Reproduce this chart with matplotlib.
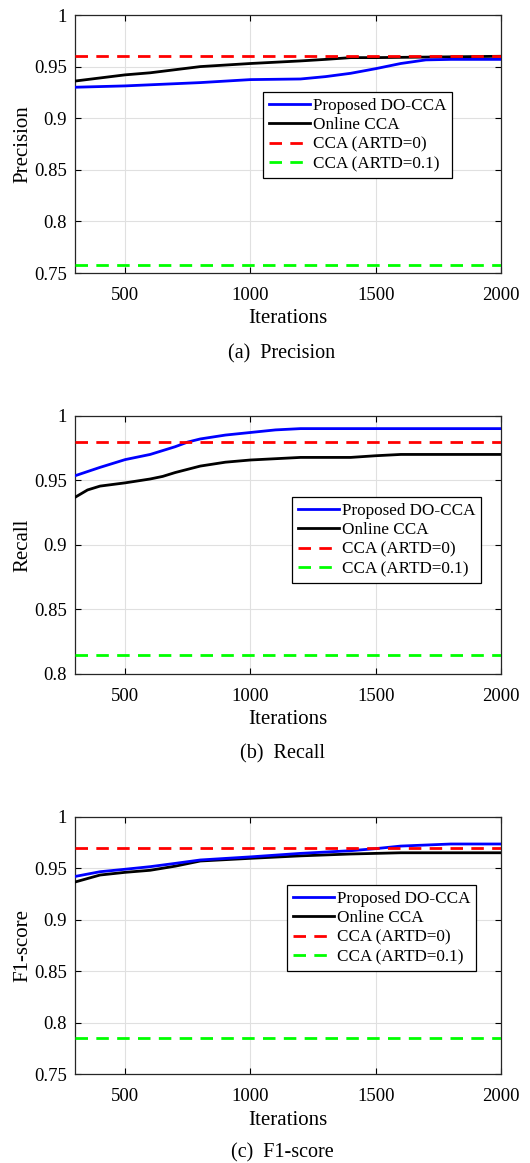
import matplotlib
matplotlib.use("Agg")
import matplotlib.pyplot as plt
from matplotlib.ticker import FuncFormatter

plt.rcParams['font.family'] = ['Liberation Serif', 'DejaVu Serif']

# ---------------- data ----------------
labels = ["Proposed DO-CCA", "Online CCA", "CCA (ARTD=0)", "CCA (ARTD=0.1)"]

prec_x_blue = [300, 500, 800, 1000, 1200, 1300, 1400, 1500, 1600, 1700, 1800, 2000]
prec_blue = [0.930, 0.9313, 0.9345, 0.9374, 0.938, 0.9403, 0.9435, 0.948, 0.953, 0.9565, 0.957, 0.957]
prec_x_black = [300, 500, 600, 700, 800, 1000, 1200, 1300, 1400, 1500, 2000]
prec_black = [0.936, 0.942, 0.944, 0.947, 0.950, 0.953, 0.9555, 0.957, 0.9587, 0.9587, 0.960]
prec_red = 0.960
prec_green = 0.7575

rec_x_blue = [300, 400, 500, 600, 700, 750, 800, 900, 1000, 1100, 1200, 2000]
rec_blue = [0.9535, 0.960, 0.966, 0.970, 0.976, 0.9796, 0.982, 0.985, 0.987, 0.989, 0.990, 0.990]
rec_x_black = [300, 350, 400, 500, 600, 650, 700, 800, 900, 1000, 1200, 1400, 1500, 1600, 2000]
rec_black = [0.9368, 0.9425, 0.9455, 0.948, 0.951, 0.953, 0.956, 0.961, 0.964, 0.9657, 0.9677, 0.9677, 0.969, 0.970, 0.970]
rec_red = 0.980
rec_green = 0.815

f1_x_blue = [300, 400, 500, 600, 700, 800, 1000, 1200, 1400, 1500, 1600, 1800, 2000]
f1_blue = [0.942, 0.9466, 0.949, 0.9515, 0.9547, 0.958, 0.961, 0.9644, 0.967, 0.969, 0.9715, 0.9735, 0.9735]
f1_x_black = [300, 400, 500, 600, 700, 800, 1000, 1200, 1400, 1600, 2000]
f1_black = [0.9366, 0.9434, 0.946, 0.948, 0.952, 0.957, 0.9596, 0.962, 0.9638, 0.965, 0.965]
f1_red = 0.970
f1_green = 0.785

x_ticks = [500, 1000, 1500, 2000]
ylabels = ["Precision", "Recall", "F1-score"]
captions = ["(a)  Precision", "(b)  Recall", "(c)  F1-score"]

# ---------------- figure ----------------
W, H = 530, 1163
fig = plt.figure(figsize=(W / 100, H / 100), dpi=100)

def frac_rect(top_px, bot_px, left_px=75, right_px=501):
    return [left_px / W, 1 - bot_px / H, (right_px - left_px) / W, (bot_px - top_px) / H]

panels = [
    dict(rect=frac_rect(15, 273), xb=prec_x_blue, yb=prec_blue, xk=prec_x_black, yk=prec_black,
         red=prec_red, green=prec_green, ylim=(0.75, 1.0), yticks=[0.75, 0.8, 0.85, 0.9, 0.95, 1.0],
         leg=(263, 92), cap_y=354),
    dict(rect=frac_rect(415.7, 674), xb=rec_x_blue, yb=rec_blue, xk=rec_x_black, yk=rec_black,
         red=rec_red, green=rec_green, ylim=(0.8, 1.0), yticks=[0.8, 0.85, 0.9, 0.95, 1.0],
         leg=(292, 497), cap_y=754),
    dict(rect=frac_rect(816.7, 1074.3), xb=f1_x_blue, yb=f1_blue, xk=f1_x_black, yk=f1_black,
         red=f1_red, green=f1_green, ylim=(0.75, 1.0), yticks=[0.75, 0.8, 0.85, 0.9, 0.95, 1.0],
         leg=(287, 885), cap_y=1153),
]

fmt = FuncFormatter(lambda v, p: ("%g" % round(v, 4)))

for i, p in enumerate(panels):
    ax = fig.add_axes(p['rect'])
    lw = 2.0
    ax.plot(p['xb'], p['yb'], color='#0000ff', lw=lw, label=labels[0], zorder=4)
    ax.plot(p['xk'], p['yk'], color='black', lw=lw, label=labels[1], zorder=3)
    ax.plot([300, 2000], [p['red'], p['red']], color='#ff0000', lw=lw, dashes=(4.5, 3),
            label=labels[2], zorder=5)
    ax.plot([300, 2000], [p['green'], p['green']], color='#00ff00', lw=lw, dashes=(4.5, 3),
            label=labels[3], zorder=5)
    ax.set_xlim(300, 2000)
    ax.set_ylim(*p['ylim'])
    ax.set_xticks(x_ticks)
    ax.set_yticks(p['yticks'])
    ax.yaxis.set_major_formatter(fmt)
    ax.tick_params(direction='in', top=True, right=True, labelsize=13.5, length=4, width=0.8)
    ax.tick_params(axis='x', pad=10)
    ax.tick_params(axis='y', pad=6)
    ax.grid(True, color='#e0e0e0', lw=0.8)
    ax.set_axisbelow(True)
    for s in ax.spines.values():
        s.set_linewidth(0.9)
        s.set_color('#262626')
    ax.set_xlabel("Iterations", fontsize=15, labelpad=4)
    ax.set_ylabel(ylabels[i], fontsize=15, labelpad=1)
    lx, ly = p['leg']
    leg = ax.legend(loc='upper left', bbox_to_anchor=(lx / W, 1 - ly / H),
                    bbox_transform=fig.transFigure, fontsize=12.3, frameon=True, fancybox=False,
                    framealpha=1, edgecolor='black', handlelength=2.4, handletextpad=0.15,
                    labelspacing=0.2, borderpad=0.35, borderaxespad=0)
    leg.get_frame().set_linewidth(0.9)
    fig.text(282 / W, 1 - p['cap_y'] / H, captions[i], ha='center', va='center', fontsize=14.5)

fig.savefig("out.png", dpi=100)
